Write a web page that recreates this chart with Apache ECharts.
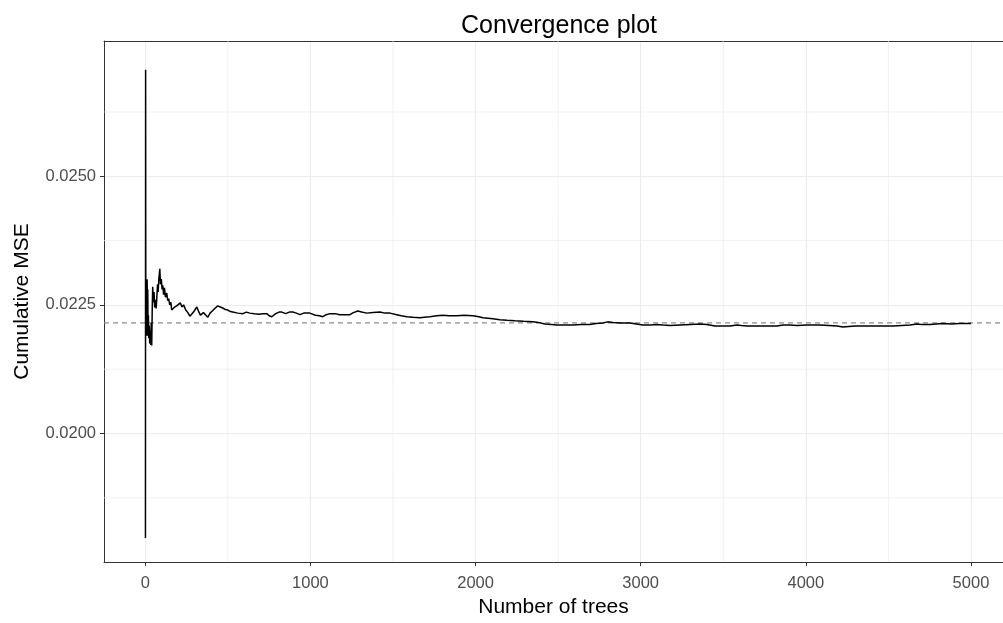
<!DOCTYPE html>
<html>
<head>
<meta charset="utf-8">
<script src="https://cdn.jsdelivr.net/npm/echarts@6/dist/echarts.min.js"></script>
<style>
  html, body { margin: 0; padding: 0; background: #ffffff; }
  #chart { width: 1003px; height: 623px; }
</style>
</head>
<body>
<div id="chart"></div>
<script>
// Number of trees at each recorded step
const trees = [
  1, 2, 3, 4, 5, 6, 7, 8, 9, 11, 13, 15, 17, 19, 21, 24, 27, 30, 33, 36, 39, 42, 45, 49, 53, 57, 61, 66, 70, 74,
  78, 82, 88, 92, 97, 102, 106, 111, 116, 122, 130, 136, 142, 148, 155, 160, 167, 175, 190, 200,
  212, 222, 232, 245, 258, 270, 282, 292, 304, 312, 322, 334, 342, 352, 364, 379, 392, 409, 424, 439,
  454, 469, 485, 500, 515, 530, 560, 591, 612, 633, 660, 690, 712, 736, 750, 766, 790, 810, 827, 850,
  872, 893, 915, 936, 960, 996, 1030, 1055, 1075, 1096, 1117, 1150, 1178, 1200, 1239, 1260, 1287, 1310, 1342, 1380,
  1421, 1450, 1481, 1523, 1550, 1584, 1620, 1663, 1690, 1723, 1766, 1800, 1840, 1887, 1930, 1984, 2020, 2044, 2075, 2105,
  2147, 2190, 2238, 2290, 2347, 2380, 2420, 2460, 2492, 2540, 2589, 2640, 2692, 2730, 2771, 2800, 2832, 2880, 2935, 2975,
  3013, 3060, 3098, 3135, 3180, 3238, 3300, 3359, 3400, 3450, 3500, 3540, 3583, 3610, 3643, 3700, 3760, 3825, 3862, 3900,
  3950, 4007, 4050, 4086, 4140, 4189, 4225, 4260, 4300, 4346, 4400, 4431, 4480, 4530, 4580, 4631, 4673, 4700, 4752, 4790,
  4830, 4880, 4930, 4976, 5000
];

// Cumulative mean squared error after each step
const cumulativeMse = [
  0.01797, 0.02707, 0.02270, 0.02195, 0.02285, 0.02200, 0.02262, 0.02190, 0.02250, 0.02300, 0.02255, 0.02280, 0.02190, 0.02230, 0.02185, 0.02210, 0.02175, 0.02200, 0.02172, 0.02215, 0.02171, 0.02240, 0.02285, 0.02255, 0.02275, 0.02245, 0.02260, 0.02243, 0.02265, 0.02290,
  0.02275, 0.02300, 0.02320, 0.02290, 0.02300, 0.02280, 0.02288, 0.02270, 0.02283, 0.02265, 0.02273, 0.02258, 0.02262, 0.02250, 0.02255, 0.02240, 0.02242, 0.02245, 0.02248, 0.02250,
  0.02254, 0.02246, 0.02250, 0.02240, 0.02235, 0.02228, 0.02229, 0.02236, 0.02242, 0.02246, 0.02238, 0.02230, 0.02229, 0.02235, 0.02232, 0.02226, 0.02234, 0.02239, 0.02244, 0.02248,
  0.02246, 0.02244, 0.02241, 0.02240, 0.02237, 0.02236, 0.02234, 0.02233, 0.02236, 0.02234, 0.02233, 0.02232, 0.02233, 0.02233, 0.02229, 0.02227, 0.02233, 0.02236, 0.02236, 0.02233,
  0.02236, 0.02236, 0.02234, 0.02231, 0.02234, 0.02234, 0.02230, 0.02229, 0.02227, 0.02231, 0.02233, 0.02233, 0.02231, 0.02231, 0.02231, 0.02235, 0.02238, 0.02236, 0.02234, 0.02235,
  0.02236, 0.02234, 0.02234, 0.02231, 0.02229, 0.02227, 0.02226, 0.02225, 0.02226, 0.02227, 0.02229, 0.02230, 0.02229, 0.02229, 0.02230, 0.02229, 0.02227, 0.02225, 0.02224, 0.02223,
  0.02221, 0.02220, 0.02219, 0.02218, 0.02217, 0.02216, 0.02213, 0.02212, 0.02211, 0.02211, 0.02211, 0.02212, 0.02212, 0.02214, 0.02215, 0.02217, 0.02216, 0.02215, 0.02215, 0.02213,
  0.02211, 0.02211, 0.02212, 0.02211, 0.02210, 0.02211, 0.02212, 0.02213, 0.02212, 0.02209, 0.02209, 0.02209, 0.02211, 0.02210, 0.02209, 0.02209, 0.02209, 0.02209, 0.02211, 0.02211,
  0.02210, 0.02211, 0.02211, 0.02211, 0.02210, 0.02209, 0.02207, 0.02208, 0.02209, 0.02209, 0.02209, 0.02209, 0.02209, 0.02209, 0.02210, 0.02211, 0.02213, 0.02212, 0.02212, 0.02213,
  0.02214, 0.02213, 0.02214, 0.02214, 0.02214
];

// Reference level drawn as a dashed line
const referenceMse = 0.02215;

// Labelled ticks
const xTickValues = [0, 1000, 2000, 3000, 4000, 5000];
const yTickValues = [0.0200, 0.0225, 0.0250];

// Minor grid positions
const xMinorValues = [500, 1500, 2500, 3500, 4500];
const yMinorValues = [0.01875, 0.02125, 0.02375, 0.02625];

// Visible axis ranges (the panel runs on past the right edge of the canvas)
const xRange = [-250, 5194];
const yRange = [0.0175, 0.02763];

const FONT = 'Liberation Sans, Arial, sans-serif';
const minorStyle = { color: '#EBEBEB', width: 0.7, type: 'solid' };

function guideSeries(points, lineStyle, z) {
  return {
    type: 'line',
    data: points,
    showSymbol: false,
    symbol: 'none',
    silent: true,
    animation: false,
    lineStyle: lineStyle,
    z: z
  };
}

const minorSeries = [
  ...xMinorValues.map(v => guideSeries([[v, yRange[0]], [v, yRange[1]]], minorStyle, 1)),
  ...yMinorValues.map(v => guideSeries([[xRange[0], v], [xRange[1], v]], minorStyle, 1))
];

const referenceSeries = guideSeries(
  [[xRange[0], referenceMse], [xRange[1], referenceMse]],
  { color: '#8C8C8C', width: 1.1, type: [5, 4] },
  3
);

const seriesData = trees.map((t, i) => [t, cumulativeMse[i]]);

const chart = echarts.init(document.getElementById('chart'), null, { renderer: 'canvas' });

chart.setOption({
  animation: false,
  backgroundColor: '#ffffff',
  textStyle: { fontFamily: FONT },
  title: {
    text: 'Convergence plot',
    left: 554,
    textAlign: 'center',
    top: 9,
    textStyle: { fontSize: 25, fontWeight: 'normal', color: '#000000', fontFamily: FONT }
  },
  grid: {
    left: 104,
    right: 0,
    top: 41,
    bottom: 60,
    show: false
  },
  xAxis: [{
    type: 'value',
    min: xRange[0],
    max: xRange[1],
    splitNumber: 5,
    name: 'Number of trees',
    nameLocation: 'middle',
    nameGap: 33,
    nameTextStyle: { fontSize: 21, color: '#000000', fontFamily: FONT },
    axisLine: { show: true, onZero: false, lineStyle: { color: '#333333', width: 1 } },
    axisTick: { show: true, length: 4, lineStyle: { color: '#333333', width: 1 }, customValues: xTickValues },
    axisLabel: { show: true, margin: 13, fontSize: 16.5, color: '#4D4D4D', fontFamily: FONT,
      customValues: xTickValues, formatter: v => String(v) },
    splitLine: { show: true, lineStyle: { color: '#EBEBEB', width: 1.1 } }
  }, {
    // top edge of the panel
    type: 'value',
    position: 'top',
    min: xRange[0],
    max: xRange[1],
    axisLine: { show: true, onZero: false, lineStyle: { color: '#333333', width: 1 } },
    axisTick: { show: false },
    axisLabel: { show: false },
    splitLine: { show: false }
  }],
  yAxis: {
    type: 'value',
    min: yRange[0],
    max: yRange[1],
    interval: 0.0025,
    name: 'Cumulative MSE',
    nameLocation: 'middle',
    nameGap: 71,
    nameTextStyle: { fontSize: 21, color: '#000000', fontFamily: FONT },
    axisLine: { show: true, onZero: false, lineStyle: { color: '#333333', width: 1 } },
    axisTick: { show: true, length: 4, lineStyle: { color: '#333333', width: 1 }, customValues: yTickValues },
    axisLabel: { show: true, margin: 8, fontSize: 16.5, color: '#4D4D4D', fontFamily: FONT,
      customValues: yTickValues, formatter: v => v.toFixed(4) },
    splitLine: { show: true, lineStyle: { color: '#EBEBEB', width: 1.1 } }
  },
  series: [
    ...minorSeries,
    referenceSeries,
    {
      type: 'line',
      data: seriesData,
      showSymbol: false,
      symbol: 'none',
      lineStyle: { color: '#000000', width: 1.5 },
      z: 5
    }
  ]
});
</script>
</body>
</html>
